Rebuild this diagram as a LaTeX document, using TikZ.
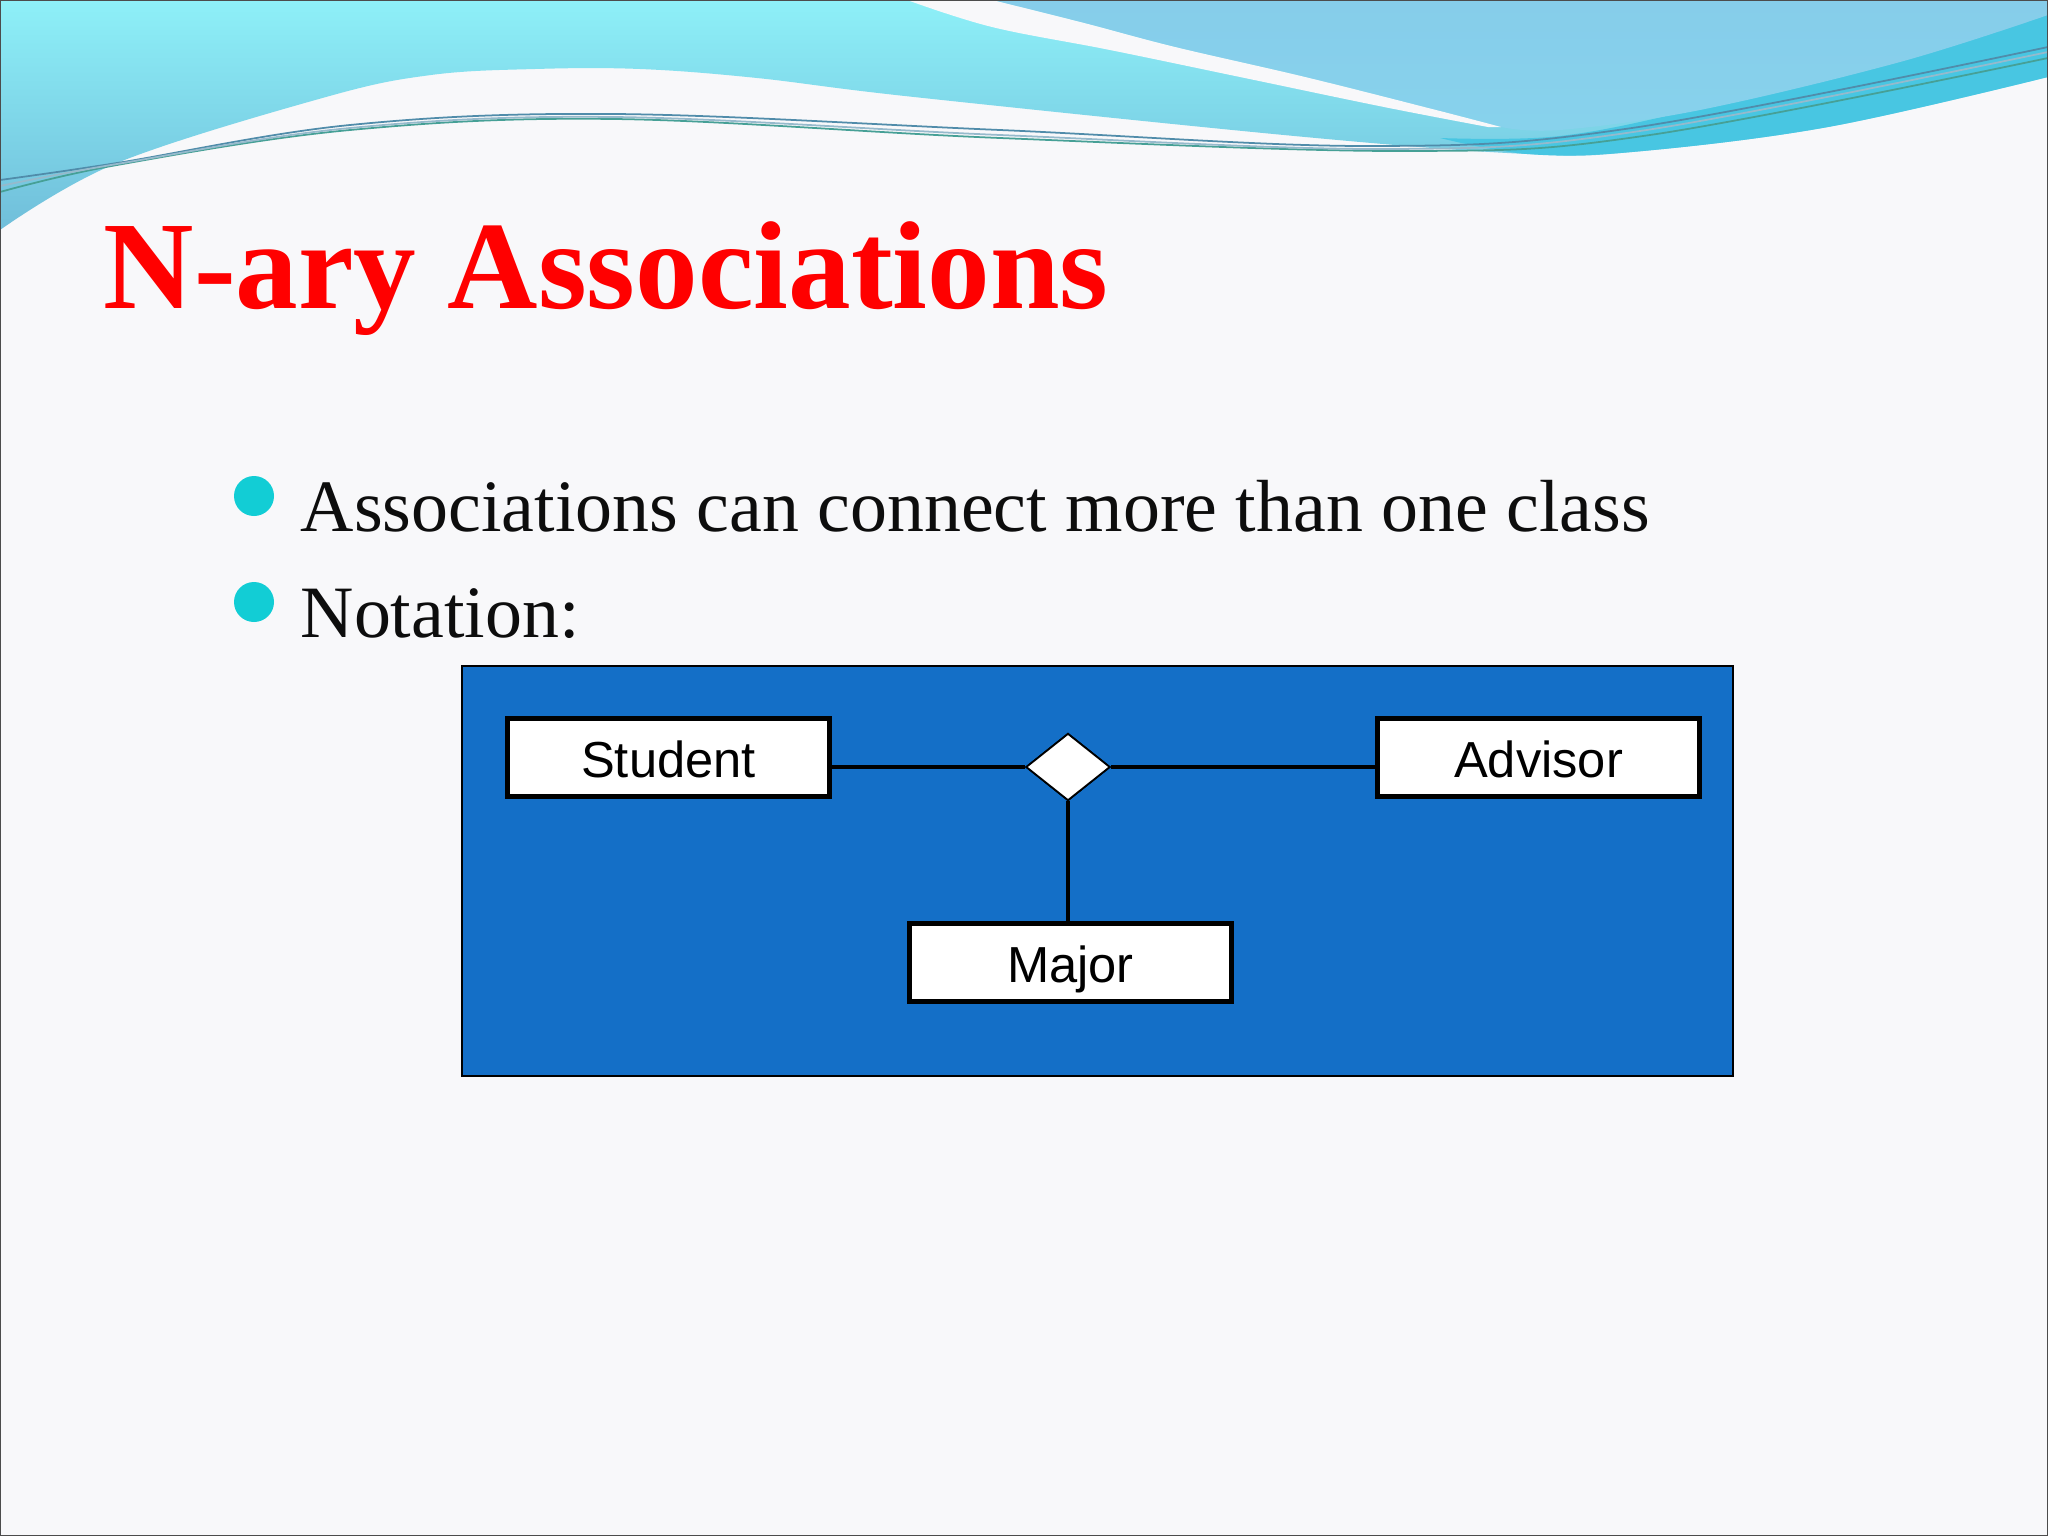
\documentclass[tikz,border=0pt]{standalone}
\usepackage{fontspec}
\setmainfont{Liberation Serif}
\newfontfamily\arialfont{Liberation Sans}
\usetikzlibrary{shapes.geometric}
\definecolor{bg}{RGB}{248,248,250}
\definecolor{cyanA}{RGB}{142,240,248}
\definecolor{cyanB}{RGB}{112,190,218}
\definecolor{bandC}{RGB}{72,198,226}
\definecolor{skyC}{RGB}{134,205,234}
\definecolor{lineA}{RGB}{80,140,170}
\definecolor{lineB}{RGB}{70,160,150}
\definecolor{panel}{RGB}{20,111,199}
\definecolor{bulletc}{RGB}{18,205,213}
\definecolor{titlered}{RGB}{255,0,0}
\tikzset{
  cls/.style={draw=black, fill=white, line width=1.42pt, minimum width=3.22cm, minimum height=0.78cm, inner sep=0pt, text height=11.4pt, text depth=0pt, font=\arialfont\fontsize{14.4}{16}\selectfont},
  assoc/.style={diamond, draw=black, fill=white, line width=0.5pt, minimum width=0.84cm, minimum height=0.67cm, inner sep=0pt},
  conn/.style={draw=black, line width=1.14pt},
  bulletdot/.style={fill=bulletc},
  bodytext/.style={anchor=base west, inner sep=0pt, text=black!95, font=\fontsize{21}{25}\selectfont},
  wave/.style={line width=0.5pt}
}
\begin{document}
\begin{tikzpicture}[x=0.01cm,y=-0.01cm]
\useasboundingbox (0,0) rectangle (2048,1536);
\fill[bg] (0,0) rectangle (2048,1536);
% top decoration
\shade[top color=cyanA, bottom color=cyanB] (0,0) -- (2048,0) -- (2048,77) -- plot[smooth, tension=0.6] coordinates {(2048,77) (1828,127) (1632,152) (1527,154) (1305,137) (914,97) (757,78) (640,69) (535,69) (431,75) (326,97) (117,163) (0,230)} -- cycle;
\fill[bandC] plot[smooth, tension=0.6] coordinates {(1440,138) (1560,136) (1700,108) (1900,55) (2048,10)} -- (2048,77) -- plot[smooth, tension=0.6] coordinates {(2048,77) (1828,127) (1632,152) (1527,154) (1440,138)} -- cycle;
\shade[top color=skyC, bottom color=skyC!85!cyanA] (992,0) -- (2048,0) -- (2048,15) -- plot[smooth, tension=0.6] coordinates {(2048,15) (1900,62) (1700,110) (1560,130) (1501,127)} -- plot[smooth, tension=0.6] coordinates {(1501,127) (1436,110) (1305,77) (1175,47) (1084,23) (992,0)} -- cycle;
\fill[bg] (907,0) -- (992,0) -- plot[smooth, tension=0.6] coordinates {(992,0) (1084,23) (1175,47) (1305,77) (1436,110) (1501,127)} -- plot[smooth, tension=0.6] coordinates {(1488,127) (1384,107) (1240,77) (1110,50) (992,27) (907,0)} -- cycle;
\draw[wave, lineA] plot[smooth, tension=0.6] coordinates {(0,180) (117,163) (350,125) (614,114) (1000,130) (1371,146) (1632,128) (2048,47)};
\draw[wave, lineB] plot[smooth, tension=0.6] coordinates {(0,192) (117,165) (350,130) (614,119) (1000,138) (1410,151) (1650,135) (2048,58)};
\draw[wave, lineA!60] plot[smooth, tension=0.6] coordinates {(0,186) (117,164) (350,128) (614,117) (1000,135) (1390,149) (1640,131) (2048,52)};
% title
\node[anchor=base west, inner sep=0pt, text=titlered, font=\fontsize{35.6}{40}\selectfont\bfseries] (title) at (103,308) {N-ary Associations};
% bullets
\fill[bulletdot] (254,496) circle (20);
\fill[bulletdot] (254,602) circle (20);
\node[bodytext] (b1) at (300,531) {Associations can connect more than one class};
\node[bodytext] (b2) at (300,637) {Notation:};
% diagram panel
\fill[panel, draw=black, line width=0.5pt] (462,666) rectangle (1733,1076);
\node[cls] (student) at (668.5,757.5) {Student};
\node[cls] (advisor) at (1538.5,757.5) {Advisor};
\node[cls] (major) at (1070.5,962.5) {Major};
\node[assoc] (dia) at (1068,767) {};
\draw[conn] (dia.west) -- (dia.west -| student.east);
\draw[conn] (dia.east) -- (dia.east -| advisor.west);
\draw[conn] (dia.south) -- (dia.south |- major.north);
\node[assoc] at (dia) {};
% slide border
\draw[black!70, line width=0.6pt] (0,0) rectangle (2048,1536);
\end{tikzpicture}
\end{document}
